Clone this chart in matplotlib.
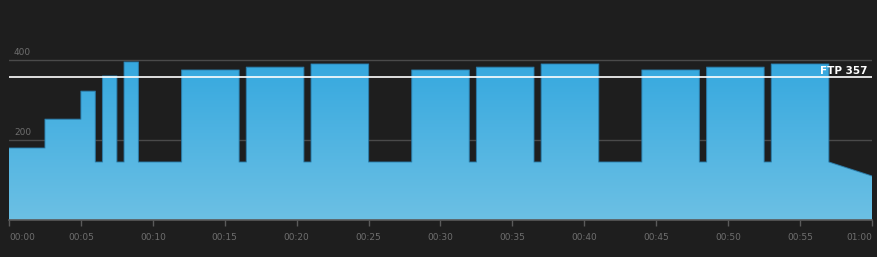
import matplotlib.pyplot as plt
import numpy as np
from matplotlib.colors import LinearSegmentedColormap

# workout segments: start/end minute, power at start/end (W)
seg_start = [0, 2.5, 5, 6, 6.5, 7.5, 8, 9, 12, 16, 16.5, 20.5, 21, 25, 28, 32, 32.5, 36.5, 37, 41, 44, 48, 48.5, 52.5, 53, 57]
seg_end = [2.5, 5, 6, 6.5, 7.5, 8, 9, 12, 16, 16.5, 20.5, 21, 25, 28, 32, 32.5, 36.5, 37, 41, 44, 48, 48.5, 52.5, 53, 57, 60]
pow_start = [180, 252, 322, 145, 360, 145, 395, 145, 375, 145, 382, 145, 390, 145, 375, 145, 382, 145, 390, 145, 375, 145, 382, 145, 390, 145]
pow_end = [180, 252, 322, 145, 360, 145, 395, 145, 375, 145, 382, 145, 390, 145, 375, 145, 382, 145, 390, 145, 375, 145, 382, 145, 390, 110]
ftp = 357
y_ticks = [200, 400]
x_ticks = [0, 5, 10, 15, 20, 25, 30, 35, 40, 45, 50, 55, 60]
x_labels = ["00:00", "00:05", "00:10", "00:15", "00:20", "00:25", "00:30",
            "00:35", "00:40", "00:45", "00:50", "00:55", "01:00"]

bg = "#1e1e1e"
fig = plt.figure(figsize=(8.78, 2.57), dpi=100, facecolor=bg)
ax = fig.add_axes([9/878, 1-220/257, 863/878, 180/257])
ax.set_facecolor(bg)
ax.set_xlim(0, 60)
ax.set_ylim(0, 450)

xs, ys = [], []
for s, e, a, b in zip(seg_start, seg_end, pow_start, pow_end):
    xs += [s, e]
    ys += [a, b]
poly_x = [0] + xs + [60]
poly_y = [0] + ys + [0]

# grid lines
for v in y_ticks:
    ax.axhline(v, color="#4a4a4a", lw=1, zorder=1)
    ax.text(0.35, v + 7, str(v), color="#6e6e6e", fontsize=6.5, va="bottom", ha="left", zorder=1)

cmap = LinearSegmentedColormap.from_list("g", ["#6cc0e4", "#35a8df"])
grad = np.linspace(0, 1, 256).reshape(-1, 1)
im = ax.imshow(grad, cmap=cmap, origin="lower", aspect="auto",
               extent=[0, 60, 0, 400], zorder=2)
patch = plt.Polygon(np.column_stack([poly_x, poly_y]), closed=True,
                    facecolor="none", edgecolor="none")
ax.add_patch(patch)
im.set_clip_path(patch)
ax.plot(xs, ys, color="#2b7fae", lw=0.8, alpha=0.8, zorder=3)

ax.axhline(ftp, color="white", lw=1.2, zorder=4)
ax.text(59.7, ftp + 3, f"FTP {ftp}", color="white", fontsize=7.5, fontweight="bold",
        ha="right", va="bottom", zorder=5)

for side in ["top", "right", "left"]:
    ax.spines[side].set_visible(False)
ax.spines["bottom"].set_color("#5a5a5a")
ax.spines["bottom"].set_linewidth(1.2)
ax.set_yticks([])
ax.set_xticks(x_ticks)
ax.set_xticklabels(x_labels)
ax.tick_params(axis="x", colors="#5a5a5a", length=4, width=1, labelsize=6.5,
               labelcolor="#6e6e6e", pad=5)
lbls = ax.get_xticklabels()
lbls[0].set_ha("left")
lbls[-1].set_ha("right")
lbls[-1].set_x(60.35)

fig.savefig("out.png", dpi=100, facecolor=bg)
